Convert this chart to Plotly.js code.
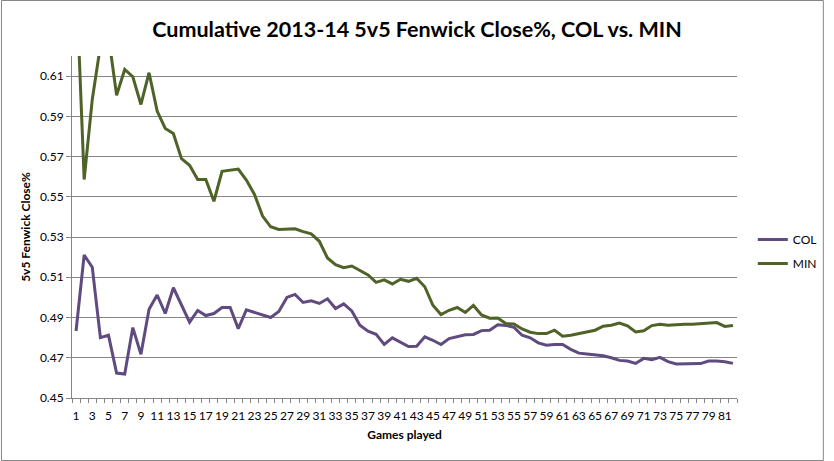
<!DOCTYPE html>
<html>
<head>
<meta charset="utf-8">
<script src="https://cdn.plot.ly/plotly-3.0.1.min.js"></script>
<style>
  html, body { margin: 0; padding: 0; background: #ffffff; }
  #chart { width: 834px; height: 461px; }
</style>
</head>
<body>
<div id="chart"></div>
<script>
// Games played (categories)
const games = [1,2,3,4,5,6,7,8,9,10,11,12,13,14,15,16,17,18,19,20,
  21,22,23,24,25,26,27,28,29,30,31,32,33,34,35,36,37,38,39,40,
  41,42,43,44,45,46,47,48,49,50,51,52,53,54,55,56,57,58,59,60,
  61,62,63,64,65,66,67,68,69,70,71,72,73,74,75,76,77,78,79,80,81,82];

// Cumulative 5v5 Fenwick Close% — Colorado
const colValues = [0.4833,0.5211,0.5150,0.4800,0.4812,0.4624,0.4619,0.4850,0.4717,0.4941,
  0.5012,0.4920,0.5048,0.4965,0.4877,0.4935,0.4910,0.4920,0.4950,0.4950,
  0.4845,0.4938,0.4925,0.4913,0.4900,0.4930,0.5000,0.5015,0.4975,0.4983,
  0.4970,0.4993,0.4945,0.4968,0.4933,0.4862,0.4832,0.4817,0.4766,0.4799,
  0.4779,0.4756,0.4757,0.4804,0.4787,0.4766,0.4795,0.4804,0.4814,0.4816,
  0.4835,0.4837,0.4864,0.4861,0.4851,0.4812,0.4799,0.4774,0.4762,0.4766,
  0.4766,0.4742,0.4723,0.4719,0.4713,0.4710,0.4700,0.4687,0.4684,0.4672,
  0.4697,0.4690,0.4702,0.4681,0.4669,0.4669,0.4669,0.4671,0.4684,0.4684,
  0.4680,0.4672];

// Cumulative 5v5 Fenwick Close% — Minnesota
const minValues = [0.6600,0.5586,0.5984,0.6250,0.6300,0.6005,0.6133,0.6097,0.5959,0.6117,
  0.5926,0.5840,0.5815,0.5690,0.5657,0.5586,0.5586,0.5478,0.5627,0.5634,
  0.5638,0.5583,0.5512,0.5404,0.5351,0.5338,0.5341,0.5341,0.5327,0.5316,
  0.5279,0.5196,0.5163,0.5148,0.5156,0.5133,0.5112,0.5075,0.5087,0.5067,
  0.5090,0.5080,0.5095,0.5053,0.4961,0.4915,0.4936,0.4950,0.4925,0.4960,
  0.4913,0.4897,0.4898,0.4870,0.4868,0.4843,0.4827,0.4820,0.4820,0.4837,
  0.4807,0.4812,0.4821,0.4828,0.4837,0.4857,0.4862,0.4872,0.4859,0.4828,
  0.4834,0.4860,0.4866,0.4862,0.4866,0.4867,0.4867,0.4869,0.4874,0.4875,
  0.4856,0.4860];

// Axis tick labels
const xTickVals = [1,3,5,7,9,11,13,15,17,19,21,23,25,27,29,31,33,35,37,39,
  41,43,45,47,49,51,53,55,57,59,61,63,65,67,69,71,73,75,77,79,81];
const xTickText = xTickVals.map(String);
const yTickVals = [0.45,0.47,0.49,0.51,0.53,0.55,0.57,0.59,0.61];
const yTickText = ["0.45","0.47","0.49","0.51","0.53","0.55","0.57","0.59","0.61"];

const FONT = 'Lato, "Open Sans", sans-serif';

const traces = [
  { x: games, y: colValues, type: 'scatter', mode: 'lines', name: 'COL',
    legendgroup: 'col', line: { color: '#5F4B7F', width: 3 } },
  { x: games, y: minValues, type: 'scatter', mode: 'lines', name: 'MIN',
    legendgroup: 'min', line: { color: '#4F6228', width: 3 } }
];

const pw = 674, ph = 342, ml = 72, mt = 56;
const layout = {
  width: 834, height: 461,
  margin: { l: ml, r: 88, t: mt, b: 63 },
  paper_bgcolor: '#ffffff', plot_bgcolor: '#ffffff',
  font: { family: FONT, color: '#000000', size: 12 },
  title: { text: '<b>Cumulative 2013-14 5v5 Fenwick Close%, COL vs. MIN</b>',
    font: { family: FONT, size: 21.5, color: '#000000' },
    xref: 'container', x: 0.5, xanchor: 'center',
    yref: 'container', y: 1 - 29/461, yanchor: 'middle' },
  xaxis: {
    range: [0.5, 82.5], tickmode: 'array', tickvals: xTickVals, ticktext: xTickText,
    tickangle: 0, ticks: 'outside', ticklen: 7, tickcolor: 'rgba(0,0,0,0)',
    tickfont: { family: FONT, size: 12, color: '#000000' },
    showgrid: false, zeroline: false, showline: true, linecolor: '#868686', linewidth: 1,
    minor: { tick0: 0.5, dtick: 1, ticks: 'outside', ticklen: 4, tickcolor: '#868686', showgrid: false },
    title: { text: '<b>Games played</b>', font: { family: FONT, size: 12, color: '#000000' }, standoff: 8 }
  },
  yaxis: {
    range: [0.45, 0.62], tickmode: 'array', tickvals: yTickVals, ticktext: yTickText,
    ticks: 'outside', ticklen: 5, tickcolor: '#868686',
    tickfont: { family: FONT, size: 12, color: '#000000' },
    showgrid: true, gridcolor: '#868686', gridwidth: 1, zeroline: false,
    showline: true, linecolor: '#868686', linewidth: 1,
    title: { text: '<b>5v5 Fenwick Close%</b>', font: { family: FONT, size: 12, color: '#000000' }, standoff: 6 }
  },
  showlegend: true,
  legend: { x: (762 - ml) / pw, xanchor: 'left', y: (398 - 225) / ph, yanchor: 'top',
    font: { family: FONT, size: 12, color: '#000000' }, bgcolor: 'rgba(0,0,0,0)',
    traceorder: 'grouped', tracegroupgap: 5 },
  shapes: [{ type: 'rect', xref: 'paper', yref: 'paper',
    x0: (0.5 - ml) / pw, x1: (833.5 - ml) / pw,
    y0: (398 - 460.5) / ph, y1: (398 - 0.5) / ph,
    line: { color: '#868686', width: 1 }, fillcolor: 'rgba(0,0,0,0)', layer: 'above' }]
};

Plotly.newPlot('chart', traces, layout, { displayModeBar: false, staticPlot: true });
</script>
</body>
</html>
